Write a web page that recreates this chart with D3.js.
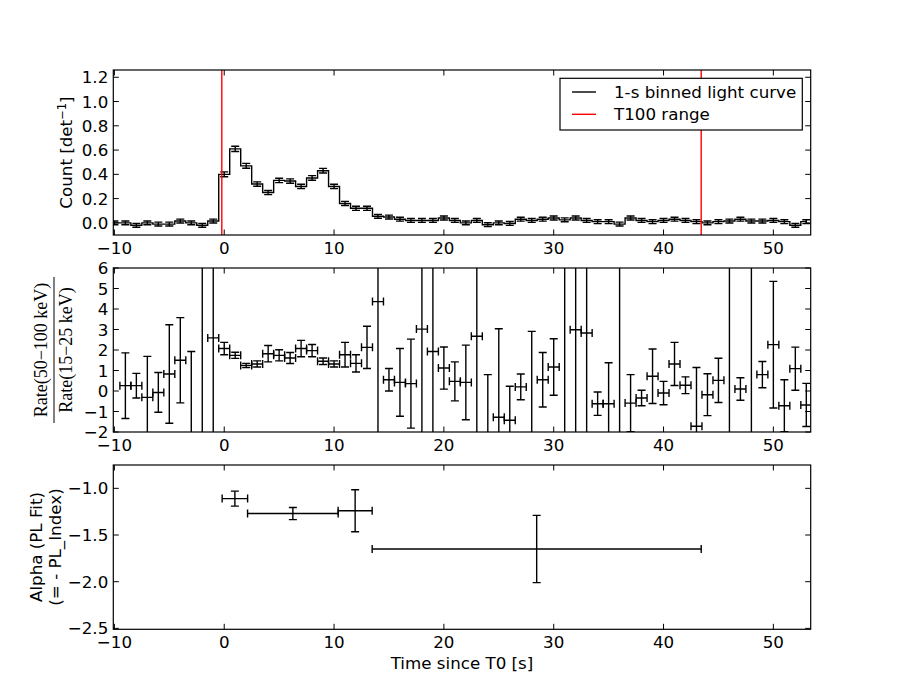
<!DOCTYPE html>
<html>
<head>
<meta charset="utf-8">
<script src="https://cdn.jsdelivr.net/npm/d3@7"></script>
<style>
    body { margin: 0; background: #fff; }
    text { font-family: "DejaVu Sans", sans-serif; font-size: 16.7px; fill: #000; }
</style>
</head>
<body>
<div id="chart"></div>
<script>
/////////////////
// chart data  //
/////////////////

// 1-s binned light curve (bin centres, counts / det)
let lcTime = [-10, -9, -8, -7, -6, -5, -4, -3, -2, -1, 0, 1, 2, 3, 4, 5, 6, 7, 8, 9,
    10, 11, 12, 13, 14, 15, 16, 17, 18, 19, 20, 21, 22, 23, 24, 25, 26, 27, 28, 29,
    30, 31, 32, 33, 34, 35, 36, 37, 38, 39, 40, 41, 42, 43, 44, 45, 46, 47, 48, 49,
    50, 51, 52, 53];
let lcRate = [0.0, 0.0, -0.02, 0.0, -0.01, -0.01, 0.015, 0.0, -0.02, 0.015,
    0.40, 0.61, 0.47, 0.32, 0.25, 0.35, 0.345, 0.30, 0.37, 0.43,
    0.30, 0.16, 0.12, 0.12, 0.054, 0.048, 0.03, 0.02, 0.02, 0.02,
    0.04, 0.02, 0.0, 0.02, -0.015, 0.0, -0.005, 0.03, 0.02, 0.03,
    0.04, 0.025, 0.04, 0.02, 0.01, 0.01, -0.01, 0.04, 0.02, 0.01,
    0.02, 0.03, 0.02, 0.01, 0.0, 0.01, 0.015, 0.03, 0.015, 0.015,
    0.02, 0.01, -0.02, 0.01];
let lcErr = [0.016, 0.016, 0.016, 0.016, 0.016, 0.016, 0.016, 0.016, 0.016, 0.016,
    0.02, 0.022, 0.02, 0.018, 0.017, 0.018, 0.018, 0.018, 0.019, 0.019,
    0.018, 0.017, 0.017, 0.017, 0.016, 0.016, 0.016, 0.016, 0.016, 0.016,
    0.016, 0.016, 0.016, 0.016, 0.016, 0.016, 0.016, 0.016, 0.016, 0.016,
    0.016, 0.016, 0.016, 0.016, 0.016, 0.016, 0.016, 0.016, 0.016, 0.016,
    0.016, 0.016, 0.016, 0.016, 0.016, 0.016, 0.016, 0.016, 0.016, 0.016,
    0.016, 0.016, 0.016, 0.016];

// T100 interval
let t100 = [-0.22, 43.43];

// hardness ratio Rate(50-100 keV) / Rate(15-25 keV)
let hrTime = [-9, -8, -7, -6, -5, -4, -3, -2, -1, 0, 1, 2, 3, 4, 5, 6, 7, 8, 9,
    10, 11, 12, 13, 14, 15, 16, 17, 18, 19, 20, 21, 22, 23, 24, 25, 26, 27, 28, 29,
    30, 31, 32, 33, 34, 35, 36, 37, 38, 39, 40, 41, 42, 43, 44, 45, 46, 47, 48, 49,
    50, 51, 52, 53];
let hrVal = [0.26, 0.26, -0.31, -0.07, 0.83, 1.5, -3.0, -10, 2.59, 2.07,
    1.74, 1.25, 1.32, 1.82, 1.74, 1.61, 2.07, 1.97, 1.45, 1.32,
    1.77, 1.35, 2.13, 4.36, 0.55, 0.42, 0.36, 3.02, 1.93, 1.12,
    0.47, 0.42, 2.67, -3.0, -1.28, -1.43, 0.2, -3.0, 0.55, 1.17,
    -10, 2.99, 2.83, -0.62, -0.62, -10, -0.59, -0.34, 0.72, -0.1,
    1.32, 0.28, -1.72, -0.18, 0.52, -10, 0.1, -10, 0.8, 2.26,
    -0.72, 1.09, -0.68];
let hrErr = [1.6, 0.6, 2.0, 0.97, 2.4, 2.08, 4.93, 20, 10, 0.3,
    0.15, 0.1, 0.15, 0.4, 0.27, 0.27, 0.4, 0.3, 0.16, 0.15,
    0.6, 0.42, 1.03, 10, 0.55, 1.65, 2.17, 10, 10, 1.03,
    0.95, 1.82, 10, 3.8, 4.32, 1.66, 0.63, 5.91, 1.33, 1.38,
    20, 10, 10, 0.57, 2.0, 20, 1.39, 0.38, 1.33, 0.57,
    1.05, 0.41, 2.87, 1.02, 1.08, 20, 0.55, 20, 0.64, 3.09,
    1.27, 1.05, 1.05];

// power-law index fits
let alphaTime = [0.97, 6.25, 11.92, 28.45];
let alphaTimeErr = [1.16, 4.125, 1.55, 14.98];
let alphaVal = [-1.11, -1.27, -1.24, -1.65];
let alphaErr = [0.08, 0.065, 0.225, 0.36];

// tick labels
let xTicks = [-10, 0, 10, 20, 30, 40, 50];
let lcTicks = [0.0, 0.2, 0.4, 0.6, 0.8, 1.0, 1.2];
let hrTicks = [-2, -1, 0, 1, 2, 3, 4, 5, 6];
let alphaTicks = [-2.5, -2.0, -1.5, -1.0];

////////////////
// the chart  //
////////////////

let width = 900, height = 700;
let left = 113.3, right = 810.7;
let tickLen = 5.5, capLen = 4;

let svg = d3.select("#chart").append("svg")
    .attr("width", width)
    .attr("height", height);

let x = d3.scaleLinear().domain([-10.1, 53.4]).range([left, right]);

function makePanel(id, top, bottom, yDomain, yTicks, fmt) {
    let y = d3.scaleLinear().domain(yDomain).range([bottom, top]);

    svg.append("clipPath").attr("id", id)
        .append("rect")
        .attr("x", left).attr("y", top)
        .attr("width", right - left).attr("height", bottom - top);

    let g = svg.append("g");
    let plot = g.append("g").attr("clip-path", "url(#" + id + ")");

    // frame
    g.append("rect")
        .attr("x", left).attr("y", top)
        .attr("width", right - left).attr("height", bottom - top)
        .attr("fill", "none")
        .attr("stroke", "black")
        .attr("stroke-width", 1.2);

    // x ticks on top and bottom, pointing in
    for (let t of xTicks) {
        g.append("line").attr("x1", x(t)).attr("x2", x(t))
            .attr("y1", bottom).attr("y2", bottom - tickLen).attr("stroke", "black");
        g.append("line").attr("x1", x(t)).attr("x2", x(t))
            .attr("y1", top).attr("y2", top + tickLen).attr("stroke", "black");
        g.append("text")
            .attr("x", x(t)).attr("y", bottom + 18.5)
            .attr("text-anchor", "middle")
            .text(d3.format("d")(t));
    }

    // y ticks on left and right
    for (let t of yTicks) {
        g.append("line").attr("x1", left).attr("x2", left + tickLen)
            .attr("y1", y(t)).attr("y2", y(t)).attr("stroke", "black");
        g.append("line").attr("x1", right).attr("x2", right - tickLen)
            .attr("y1", y(t)).attr("y2", y(t)).attr("stroke", "black");
        g.append("text")
            .attr("x", left - 5).attr("y", y(t) + 6)
            .attr("text-anchor", "end")
            .text(fmt(t));
    }

    return { g: g, plot: plot, y: y };
}

function errBar(plot, x1, y1, x2, y2, vertical) {
    plot.append("line")
        .attr("x1", x1).attr("y1", y1).attr("x2", x2).attr("y2", y2)
        .attr("stroke", "black").attr("stroke-width", 1.4);
    for (let p of [[x1, y1], [x2, y2]]) {
        if (vertical) {
            plot.append("line")
                .attr("x1", p[0] - capLen).attr("x2", p[0] + capLen)
                .attr("y1", p[1]).attr("y2", p[1])
                .attr("stroke", "black").attr("stroke-width", 1.4);
        } else {
            plot.append("line")
                .attr("x1", p[0]).attr("x2", p[0])
                .attr("y1", p[1] - capLen).attr("y2", p[1] + capLen)
                .attr("stroke", "black").attr("stroke-width", 1.4);
        }
    }
}

// --- top: light curve ---
let p1 = makePanel("clipTop", 70, 235, [-0.1, 1.26], lcTicks, d3.format(".1f"));

let lcData = lcTime.map(function(t, i) { return { t: t, v: lcRate[i], e: lcErr[i] } });

p1.plot.append("path")
    .attr("d", d3.line().curve(d3.curveStep)
        .x(function(d) { return x(d.t) })
        .y(function(d) { return p1.y(d.v) })(lcData))
    .attr("fill", "none")
    .attr("stroke", "black")
    .attr("stroke-width", 1.4);

for (let d of lcData) {
    errBar(p1.plot, x(d.t), p1.y(d.v - d.e), x(d.t), p1.y(d.v + d.e), true);
}

for (let t of t100) {
    p1.plot.append("line")
        .attr("x1", x(t)).attr("x2", x(t))
        .attr("y1", 70).attr("y2", 235)
        .attr("stroke", "red").attr("stroke-width", 1.4);
}

// legend
let leg = p1.g.append("g");
leg.append("rect")
    .attr("x", 560).attr("y", 78.3).attr("width", 242.3).attr("height", 51.7)
    .attr("fill", "white").attr("stroke", "black").attr("stroke-width", 1.2);
let legItems = [["1-s binned light curve", "black"], ["T100 range", "red"]];
legItems.forEach(function(item, i) {
    let ly = 92 + i * 22.3;
    leg.append("line")
        .attr("x1", 572).attr("x2", 596).attr("y1", ly).attr("y2", ly)
        .attr("stroke", item[1]).attr("stroke-width", 1.4);
    leg.append("text")
        .attr("x", 614).attr("y", ly + 6)
        .text(item[0]);
});

p1.g.append("text")
    .attr("transform", "translate(72,152.5)rotate(-90)")
    .attr("text-anchor", "middle")
    .html('Count [det<tspan dy="-6" font-size="11.5px">\u22121</tspan><tspan dy="6">]</tspan>');

// --- middle: hardness ratio ---
let p2 = makePanel("clipMid", 268, 432, [-2, 6], hrTicks, d3.format("d"));

hrTime.forEach(function(t, i) {
    let v = hrVal[i], e = hrErr[i];
    errBar(p2.plot, x(t), p2.y(v - e), x(t), p2.y(v + e), true);
    errBar(p2.plot, x(t - 0.5), p2.y(v), x(t + 0.5), p2.y(v), false);
});

let frac = p2.g.append("g")
    .attr("transform", "translate(54,350)rotate(-90)");
frac.append("text")
    .attr("x", 0).attr("y", -7)
    .attr("text-anchor", "middle")
    .style("font-family", "'Liberation Serif', serif")
    .style("font-size", "18px")
    .text("Rate(50\u2212100 keV)");
frac.append("line")
    .attr("x1", -73).attr("x2", 73).attr("y1", 0).attr("y2", 0)
    .attr("stroke", "black").attr("stroke-width", 1);
frac.append("text")
    .attr("x", 0).attr("y", 18)
    .attr("text-anchor", "middle")
    .style("font-family", "'Liberation Serif', serif")
    .style("font-size", "18px")
    .text("Rate(15\u221225 keV)");

// --- bottom: PL index ---
let p3 = makePanel("clipBot", 465, 629.3, [-2.51, -0.75], alphaTicks, d3.format(".1f"));

alphaTime.forEach(function(t, i) {
    let v = alphaVal[i];
    errBar(p3.plot, x(t), p3.y(v - alphaErr[i]), x(t), p3.y(v + alphaErr[i]), true);
    errBar(p3.plot, x(t - alphaTimeErr[i]), p3.y(v), x(t + alphaTimeErr[i]), p3.y(v), false);
});

p3.g.append("text")
    .attr("transform", "translate(42,547)rotate(-90)")
    .attr("text-anchor", "middle")
    .text("Alpha (PL Fit)");
p3.g.append("text")
    .attr("transform", "translate(61,547)rotate(-90)")
    .attr("text-anchor", "middle")
    .text("(= - PL_Index)");

svg.append("text")
    .attr("x", (left + right) / 2).attr("y", 669)
    .attr("text-anchor", "middle")
    .text("Time since T0 [s]");
</script>
</body>
</html>
